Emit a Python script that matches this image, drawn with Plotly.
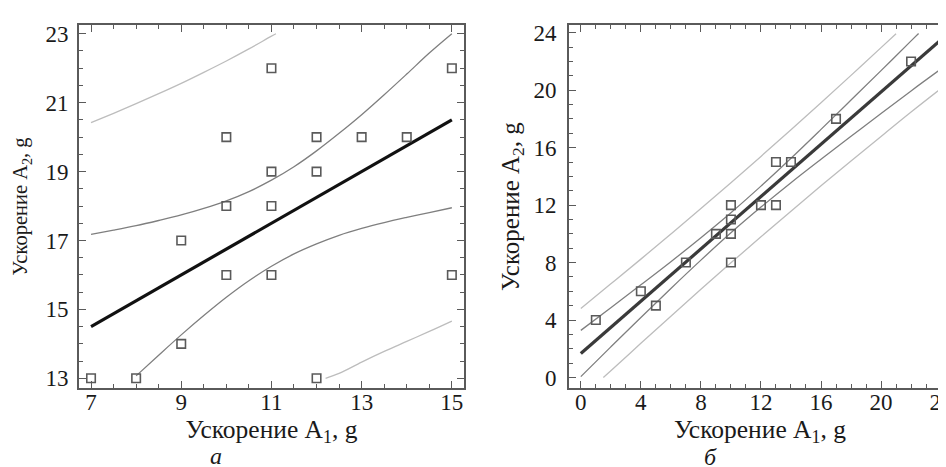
import plotly.graph_objects as go

# ---- panel a ----
a_x = [7, 8, 9, 9, 10, 10, 10, 11, 11, 11, 11, 12, 12, 12, 13, 14, 15, 15]
a_y = [13, 13, 14, 17, 16, 18, 20, 16, 18, 19, 22, 13, 19, 20, 20, 20, 16, 22]
a_fit_x = [7, 15]
a_fit_y = [14.5, 20.5]
a_uc_x = [7, 7.5, 8, 8.5, 9, 9.5, 10, 10.5, 11, 11.5, 12, 12.5, 13, 13.5, 14, 14.5, 15]
a_uc_y = [17.18, 17.30, 17.43, 17.58, 17.74, 17.93, 18.15, 18.42, 18.75, 19.14, 19.60, 20.11, 20.65, 21.23, 21.83, 22.44, 23.0]
a_lc_x = [8, 8.5, 9, 9.5, 10, 10.5, 11, 11.5, 12, 12.5, 13, 13.5, 14, 14.5, 15]
a_lc_y = [13.07, 13.67, 14.26, 14.82, 15.35, 15.83, 16.25, 16.61, 16.90, 17.15, 17.35, 17.52, 17.67, 17.81, 17.95]
a_up_x = [7, 7.5, 8, 8.5, 9, 9.5, 10, 10.5, 11, 11.1]
a_up_y = [20.42, 20.69, 20.97, 21.26, 21.56, 21.88, 22.21, 22.56, 22.93, 23.0]
a_lp_x = [12.2, 12.5, 13, 13.5, 14, 14.5, 15]
a_lp_y = [13.0, 13.14, 13.47, 13.78, 14.07, 14.36, 14.66]

# ---- panel б ----
b_x = [1, 4, 5, 7, 9, 10, 10, 10, 10, 12, 13, 13, 14, 17, 22]
b_y = [4, 6, 5, 8, 10, 8, 10, 11, 12, 12, 12, 15, 15, 18, 22]
b_fit_x = [0, 24]
b_fit_y = [1.67, 23.51]
b_uc_x = [0, 2, 4, 6, 8, 10, 12, 14, 16, 18, 20, 22, 22.5]
b_uc_y = [3.28, 4.86, 6.45, 8.06, 9.73, 11.47, 13.32, 15.26, 17.27, 19.31, 21.36, 23.43, 23.95]
b_lc_x = [0, 2, 4, 6, 8, 10, 12, 14, 16, 18, 20, 22, 24]
b_lc_y = [0.06, 2.13, 4.18, 6.20, 8.17, 10.07, 11.86, 13.56, 15.19, 16.79, 18.38, 19.95, 21.48]
b_up_x = [0, 2, 4, 6, 8, 10, 12, 14, 16, 18, 20, 21]
b_up_y = [4.81, 6.52, 8.24, 9.99, 11.76, 13.56, 15.39, 17.24, 19.12, 21.03, 22.96, 23.93]
b_lp_x = [1.5, 2, 4, 6, 8, 10, 12, 14, 16, 18, 20, 22, 24]
b_lp_y = [0.0, 0.47, 2.38, 4.27, 6.14, 7.98, 9.79, 11.58, 13.34, 15.07, 16.78, 18.48, 20.12]

x_title = "Ускорение A<sub>1</sub>, g"
y_title = "Ускорение A<sub>2</sub>, g"
panel_labels = ["а", "б"]

PRED = "#bdbdbd"
CONF = "#7f7f7f"
MARK = "#5a5a5a"
FONT = "'Liberation Serif', 'Times New Roman', Times, serif"

fig = go.Figure()

def add_panel(xa, ya, sx, sy, fx, fy, ucx, ucy, lcx, lcy, upx, upy, lpx, lpy, fitcolor):
    for px, py in [(upx, upy), (lpx, lpy)]:
        fig.add_trace(go.Scatter(x=px, y=py, mode="lines", line=dict(color=PRED, width=1.3),
                                 xaxis=xa, yaxis=ya, showlegend=False, line_shape="spline"))
    for px, py in [(ucx, ucy), (lcx, lcy)]:
        fig.add_trace(go.Scatter(x=px, y=py, mode="lines", line=dict(color=CONF, width=1.3),
                                 xaxis=xa, yaxis=ya, showlegend=False, line_shape="spline"))
    fig.add_trace(go.Scatter(x=fx, y=fy, mode="lines", line=dict(color=fitcolor, width=3.2),
                             xaxis=xa, yaxis=ya, showlegend=False))
    fig.add_trace(go.Scatter(x=sx, y=sy, mode="markers",
                             marker=dict(symbol="square-open", size=8.5, color=MARK, line=dict(width=1.6, color=MARK)),
                             xaxis=xa, yaxis=ya, showlegend=False))

add_panel("x", "y", a_x, a_y, a_fit_x, a_fit_y, a_uc_x, a_uc_y, a_lc_x, a_lc_y, a_up_x, a_up_y, a_lp_x, a_lp_y, "#111111")
add_panel("x2", "y2", b_x, b_y, b_fit_x, b_fit_y, b_uc_x, b_uc_y, b_lc_x, b_lc_y, b_up_x, b_up_y, b_lp_x, b_lp_y, "#3a3a3a")

W, H = 946, 467
def dx(p): return p / W
def dy(p): return 1 - p / H

axis_common = dict(showline=True, linecolor="#5a5a5a", linewidth=1.6, mirror="ticks",
                   ticks="inside", ticklen=7, tickwidth=1.4, tickcolor="#5a5a5a",
                   showgrid=False, zeroline=False, ticklabeloverflow="allow",
                   tickfont=dict(family=FONT, size=23, color="#1a1a1a"))

fig.update_layout(
    width=W, height=H, margin=dict(l=0, r=0, t=0, b=0),
    paper_bgcolor="white", plot_bgcolor="white",
    font=dict(family=FONT, color="#1a1a1a"),
    xaxis=dict(axis_common, domain=[dx(71), dx(457)], range=[6.73, 15.27], tick0=7, dtick=2,
               minor=dict(dtick=0.5, ticks="inside", ticklen=4, tickcolor="#5a5a5a", tickwidth=1.2),
               anchor="y", ticklabelstandoff=-8,
               title=dict(text=x_title, font=dict(family=FONT, size=25.5, color="#1a1a1a"), standoff=0)),
    yaxis=dict(axis_common, domain=[dy(382), dy(13)], range=[12.71, 23.26], tick0=13, dtick=2,
               minor=dict(dtick=0.5, ticks="inside", ticklen=4, tickcolor="#5a5a5a", tickwidth=1.2),
               anchor="x", ticklabelstandoff=4,
               title=dict(text=y_title, font=dict(family=FONT, size=20.5, color="#1a1a1a"), standoff=12)),
    xaxis2=dict(axis_common, domain=[dx(562), dx(945)], range=[-0.8, 24.66], tick0=0, dtick=4,
                minor=dict(dtick=1, ticks="inside", ticklen=4, tickcolor="#5a5a5a", tickwidth=1.2),
                anchor="y2", ticklabelstandoff=-8,
                title=dict(text=x_title, font=dict(family=FONT, size=25.5, color="#1a1a1a"), standoff=0)),
    yaxis2=dict(axis_common, domain=[dy(382), dy(13)], range=[-0.75, 24.55], tick0=0, dtick=4,
                minor=dict(dtick=1, ticks="inside", ticklen=4, tickcolor="#5a5a5a", tickwidth=1.2),
                anchor="x2", ticklabelstandoff=6,
                title=dict(text=y_title, font=dict(family=FONT, size=25, color="#1a1a1a"), standoff=7)),
    annotations=[
        dict(text=panel_labels[0], x=dx(208), y=dy(451), xref="paper", yref="paper", showarrow=False,
             font=dict(family=FONT, size=24, color="#1a1a1a", style="italic"), xanchor="center", yanchor="middle"),
        dict(text=panel_labels[1], x=dx(704), y=dy(452), xref="paper", yref="paper", showarrow=False,
             font=dict(family=FONT, size=24, color="#1a1a1a", style="italic"), xanchor="center", yanchor="middle"),
    ],
)

fig.write_html("out.html")
